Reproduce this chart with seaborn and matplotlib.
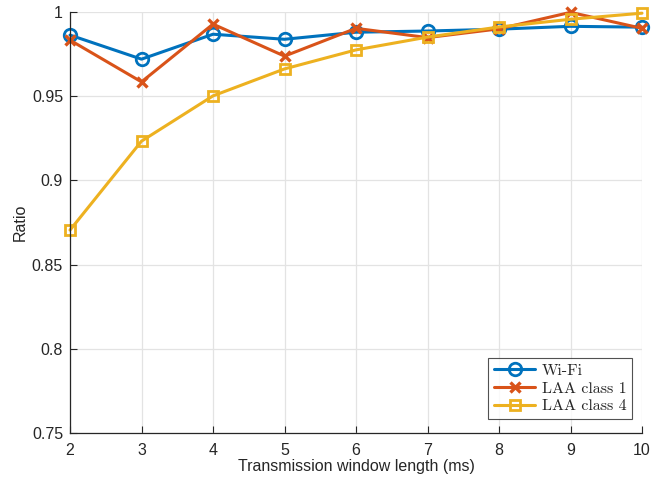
import matplotlib
matplotlib.use("Agg")
import matplotlib.pyplot as plt
import seaborn as sns
import pandas as pd

window_ms = [2, 3, 4, 5, 6, 7, 8, 9, 10]
wifi = [0.9863, 0.9720, 0.9868, 0.9838, 0.9880, 0.9887, 0.9898, 0.9915, 0.9910]
laa_class1 = [0.9833, 0.9585, 0.9928, 0.9738, 0.9903, 0.9848, 0.9900, 0.9998, 0.9903]
laa_class4 = [0.8705, 0.9233, 0.9502, 0.9662, 0.9775, 0.9851, 0.9911, 0.9957, 0.9993]
series_names = ["Wi-Fi", "LAA class 1", "LAA class 4"]

df = pd.DataFrame({
    "x": window_ms * 3,
    "y": wifi + laa_class1 + laa_class4,
    "series": [series_names[0]] * 9 + [series_names[1]] * 9 + [series_names[2]] * 9,
})

sns.set_theme(style="white")
plt.rcParams["font.family"] = ["Liberation Sans", "DejaVu Sans"]

fig = plt.figure(figsize=(6.51, 4.87), dpi=100)
ax = fig.add_axes([70 / 651, 1 - 433 / 487, (642 - 70) / 651, (433 - 12) / 487])

palette = {"Wi-Fi": "#0072BD", "LAA class 1": "#D95319", "LAA class 4": "#EDB120"}
marker_style = {
    "Wi-Fi": dict(marker="o", markersize=9, markerfacecolor="none", markeredgewidth=2.0),
    "LAA class 1": dict(marker="x", markersize=7, markeredgewidth=2.4),
    "LAA class 4": dict(marker="s", markersize=7.5, markerfacecolor="none", markeredgewidth=2.0),
}

for name in series_names:
    sub = df[df["series"] == name]
    sns.lineplot(data=sub, x="x", y="y", ax=ax, color=palette[name],
                 linewidth=2.2, label=name, markeredgecolor=palette[name],
                 clip_on=False, **marker_style[name])

ax.set_xlim(2, 10)
ax.set_ylim(0.75, 1.0)
ax.set_xticks(window_ms)
ax.set_yticks([0.75, 0.8, 0.85, 0.9, 0.95, 1.0])
ax.set_yticklabels(["0.75", "0.8", "0.85", "0.9", "0.95", "1"])
ax.grid(True, color="#e3e3e3", linewidth=0.9)
ax.set_axisbelow(True)
for side in ["top", "right"]:
    ax.spines[side].set_visible(False)
for side in ["left", "bottom"]:
    ax.spines[side].set_color("#262626")
    ax.spines[side].set_linewidth(0.9)
ax.tick_params(direction="in", length=5, width=0.8, colors="#262626",
               labelsize=11.5, left=True, bottom=True)
ax.tick_params(axis="x", pad=7)
ax.tick_params(axis="y", pad=5)
ax.set_xlabel("Transmission window length (ms)", fontsize=11.5, color="#262626", labelpad=1)
ax.set_ylabel("Ratio", fontsize=11.5, color="#262626", labelpad=3)

leg = ax.legend(loc="lower right", prop={"family": "cmr10", "size": 11.5},
                frameon=True, fancybox=False, edgecolor="#262626",
                handlelength=2.6, borderpad=0.35, labelspacing=0.22,
                handletextpad=0.4, borderaxespad=0)
leg.get_frame().set_linewidth(0.8)
leg.set_bbox_to_anchor((632 / 651, 1 - 419 / 487), transform=fig.transFigure)

fig.savefig("out.png", dpi=100)
